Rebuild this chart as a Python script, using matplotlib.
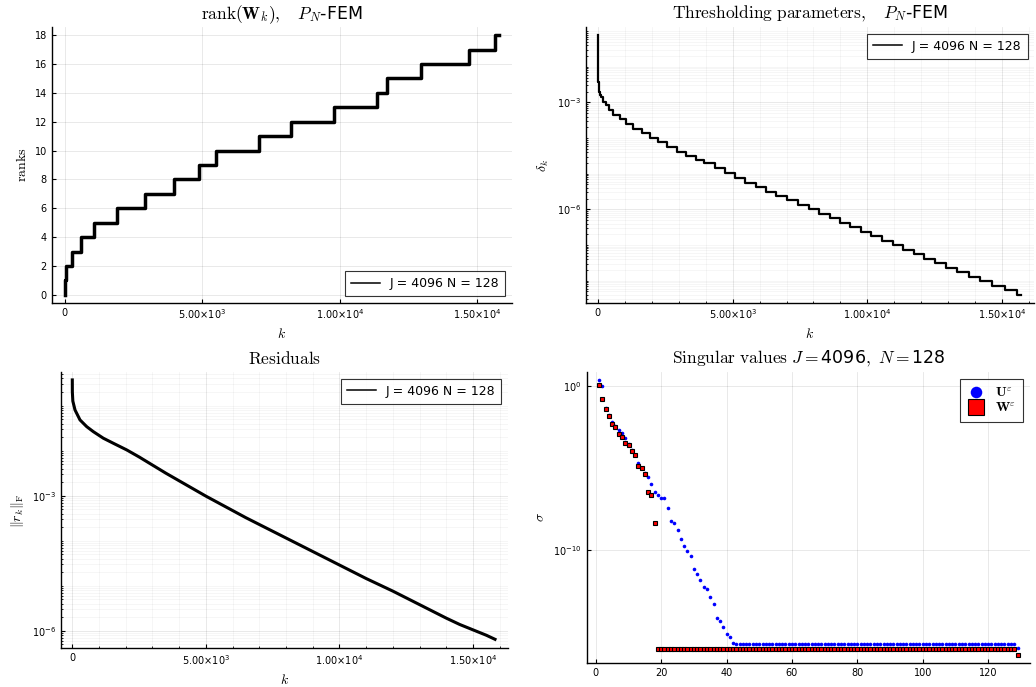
import numpy as np
from matplotlib import pyplot as plt
from matplotlib import ticker
from matplotlib.font_manager import FontProperties

# rank of W_k (step function)
k_rank = [0, 5, 60, 267, 606, 1066, 1914, 2908, 3974, 4883, 5513, 7064, 8215,
          9778, 11365, 11729, 12940, 14697, 15642, 15775]
ranks = [0, 1, 2, 3, 4, 5, 6, 7, 8, 9, 10, 11, 12, 13, 14, 15, 16, 17, 18, 18]

# thresholding parameters delta_k (log10 levels, step function)
k_delta = [0, 5, 10, 20, 35, 55, 80, 111, 198, 296, 420, 568, 815, 1038, 1309,
           1618, 1927, 2236, 2569, 2940, 3286, 3656, 3952, 4330, 4700, 5077,
           5473, 5855, 6251, 6621, 7017, 7425, 7832, 8203, 8598, 8993, 9364,
           9772, 10142, 10538, 10945, 11340, 11723, 12119, 12526, 12922, 13329,
           13762, 14182, 14626, 15095, 15553, 15701]
delta_log10 = [-1.11, -1.9, -2.2, -2.42, -2.58, -2.70, -2.78, -2.842, -2.982,
               -3.076, -3.216, -3.356, -3.477, -3.618, -3.749, -3.870, -3.992,
               -4.122, -4.244, -4.384, -4.505, -4.618, -4.711, -4.85, -4.991,
               -5.131, -5.253, -5.384, -5.505, -5.627, -5.739, -5.870, -6.001,
               -6.131, -6.253, -6.375, -6.505, -6.627, -6.748, -6.879, -7.010,
               -7.141, -7.262, -7.384, -7.515, -7.645, -7.767, -7.889, -8.010,
               -8.141, -8.262, -8.393, -8.393]

# residuals ||r_k||_F (log10)
k_res = [0, 2, 20, 101, 288, 539, 786, 1161, 1535, 2037, 2500, 3000, 3500, 4000,
         4500, 5000, 5500, 6000, 6500, 7000, 7500, 8000, 8500, 9000, 9500, 10000,
         10500, 11000, 11500, 12000, 12500, 13000, 13500, 14000, 14500, 15000,
         15500, 15824]
res_log10 = [-0.43, -0.70, -0.90, -1.096, -1.318, -1.467, -1.578, -1.724, -1.836,
             -1.984, -2.14, -2.32, -2.50, -2.67, -2.84, -3.01, -3.17, -3.33, -3.49,
             -3.64, -3.79, -3.94, -4.09, -4.24, -4.39, -4.54, -4.69, -4.84, -4.98,
             -5.12, -5.27, -5.42, -5.57, -5.72, -5.86, -5.98, -6.10, -6.19]

# singular values (log10), index 1..129
sv_U_log10 = [0.34, -0.04, -1.35, -1.8, -2.2, -2.46, -2.69, -2.87, -3.17, -3.52,
              -3.88, -4.18, -4.69, -4.99, -5.29, -5.52, -5.94, -6.44, -6.61, -6.81,
              -6.83, -7.43, -8.22, -8.34, -8.79, -9.29, -9.74, -10.04, -10.36,
              -11.15, -11.41, -11.82, -12.22, -12.36, -12.81, -13.29, -14.12,
              -14.30, -14.67, -15.09, -15.29, -15.64] + [-15.72] * 86 + [-15.92]
sv_W_log10 = [0.08, -0.79, -1.43, -1.82, -2.32, -2.50, -2.93, -3.13, -3.49, -3.58,
              -3.98, -4.22, -4.89, -4.99, -5.33, -6.48, -6.63, -8.34] + [-15.98] * 110 + [-16.34]

legend_label = 'J = 4096 N = 128'
k_ticks = [0, 5000, 10000, 15000]
k_ticklabels = ['0', r'$5.00{\times}10^{3}$', r'$1.00{\times}10^{4}$', r'$1.50{\times}10^{4}$']

plt.rcParams['font.family'] = 'DejaVu Sans'
plt.rcParams['mathtext.fontset'] = 'dejavusans'
CM = dict(math_fontfamily='cm')
TITLE = 12.5
LABEL = 10
TICK = 7


def style_axes(ax, minor_x=False, minor_y=False):
    for side in ('top', 'right'):
        ax.spines[side].set_visible(False)
    for side in ('left', 'bottom'):
        ax.spines[side].set_linewidth(1.0)
    ax.tick_params(which='both', direction='in', labelsize=TICK)
    ax.tick_params(which='major', length=3)
    ax.tick_params(which='minor', length=1.5)
    ax.grid(True, which='major', color='black', alpha=0.1, lw=0.6)
    if minor_x or minor_y:
        ax.grid(True, which='minor', axis='both' if (minor_x and minor_y) else ('x' if minor_x else 'y'),
                color='black', alpha=0.05, lw=0.5)


def k_axis(ax):
    ax.set_xticks(k_ticks)
    ax.set_xticklabels(k_ticklabels)
    ax.set_xlabel(r'$k$', fontsize=LABEL, **CM)


def add_legend(ax, loc):
    leg = ax.legend(loc=loc, fontsize=9, frameon=True, fancybox=False,
                    handlelength=2.3, borderpad=0.5, edgecolor='black')
    leg.get_frame().set_linewidth(0.8)
    for line in leg.get_lines():
        line.set_linewidth(1.1)
    return leg


fig = plt.figure(figsize=(10.36, 6.87), dpi=100)

# --- rank(W_k)
ax1 = fig.add_axes([0.0499, 0.5594, 0.444, 0.4009])
ax1.step(k_rank, ranks, where='post', color='black', lw=2.5, label=legend_label)
ax1.set_xlim(-473, 16243)
ax1.set_ylim(-0.54, 18.54)
ax1.set_yticks(range(0, 19, 2))
k_axis(ax1)
ax1.set_ylabel(r'$\mathrm{ranks}$', fontsize=LABEL, **CM)
ax1.set_title(r'$\mathrm{rank}(\mathbf{W}_k),\quad P_N$-FEM', fontsize=TITLE, pad=6, **CM)
style_axes(ax1)
add_legend(ax1, 'lower right')

# --- thresholding parameters
ax2 = fig.add_axes([0.5653, 0.5594, 0.433, 0.4009])
ax2.step(k_delta, 10.0 ** np.array(delta_log10), where='post', color='black', lw=1.6,
         label=legend_label)
ax2.set_yscale('log')
ax2.set_xlim(-456, 16195)
ax2.set_ylim(10 ** -8.62, 10 ** -0.89)
ax2.yaxis.set_major_locator(ticker.FixedLocator([1e-3, 1e-6]))
ax2.yaxis.set_minor_locator(ticker.LogLocator(base=10, subs=np.arange(1, 10), numticks=100))
ax2.yaxis.set_minor_formatter(ticker.NullFormatter())
ax2.yaxis.set_major_formatter(ticker.FixedFormatter([r'$10^{-3}$', r'$10^{-6}$']))
ax2.xaxis.set_minor_locator(ticker.MultipleLocator(1000))
k_axis(ax2)
ax2.set_ylabel(r'$\delta_k$', fontsize=LABEL, **CM)
ax2.set_title(r'$\mathrm{Thresholding\ parameters},\quad P_N$-FEM', fontsize=TITLE, pad=6, **CM)
style_axes(ax2, minor_x=True, minor_y=True)
add_legend(ax2, 'upper right')

# --- residuals
ax3 = fig.add_axes([0.0586, 0.0563, 0.4315, 0.4018])
ax3.plot(k_res, 10.0 ** np.array(res_log10), color='black', lw=2.2, label=legend_label)
ax3.set_yscale('log')
ax3.set_xlim(-434, 16300)
ax3.set_ylim(10 ** -6.39, 10 ** -0.26)
ax3.yaxis.set_major_locator(ticker.FixedLocator([1e-3, 1e-6]))
ax3.yaxis.set_minor_locator(ticker.LogLocator(base=10, subs=np.arange(1, 10), numticks=100))
ax3.yaxis.set_minor_formatter(ticker.NullFormatter())
ax3.yaxis.set_major_formatter(ticker.FixedFormatter([r'$10^{-3}$', r'$10^{-6}$']))
ax3.xaxis.set_minor_locator(ticker.MultipleLocator(1000))
k_axis(ax3)
ax3.set_ylabel(r'$\| r_k\|_{\mathrm{F}}$', fontsize=LABEL, **CM)
ax3.set_title(r'$\mathrm{Residuals}$', fontsize=TITLE, pad=6, **CM)
style_axes(ax3, minor_x=True, minor_y=True)
add_legend(ax3, 'upper right')

# --- singular values
ax4 = fig.add_axes([0.5663, 0.0349, 0.4279, 0.4236])
idx = np.arange(1, len(sv_U_log10) + 1)
ax4.plot(idx, 10.0 ** np.array(sv_U_log10), 'o', color='blue', ms=2.6, mew=0,
         label=r'$\mathbf{U}^{\varepsilon}$')
ax4.plot(idx, 10.0 ** np.array(sv_W_log10), 's', mfc='red', mec='black', ms=3.4, mew=0.8,
         label=r'$\mathbf{W}^{\varepsilon}$')
ax4.set_yscale('log')
ax4.set_xlim(-2.8, 132.8)
ax4.set_ylim(10 ** -16.85, 10 ** 0.84)
ax4.yaxis.set_major_locator(ticker.FixedLocator([1.0, 1e-10]))
ax4.yaxis.set_major_formatter(ticker.FixedFormatter([r'$10^{0}$', r'$10^{-10}$']))
ax4.yaxis.set_minor_locator(ticker.NullLocator())
ax4.set_xticks(range(0, 121, 20))
ax4.set_ylabel(r'$\sigma$', fontsize=LABEL, **CM)
ax4.set_title(r'$\mathrm{Singular\ values}\ J = $4096$,\ N = $128', fontsize=TITLE, pad=6, **CM)
style_axes(ax4)
leg4 = ax4.legend(loc='upper right', prop=FontProperties(size=10, math_fontfamily='cm'),
                  frameon=True, fancybox=False, edgecolor='black', markerscale=3.2,
                  handlelength=1.2, borderpad=0.5, labelspacing=0.1)
leg4.get_frame().set_linewidth(0.8)

fig.savefig('out.png', dpi=100)
